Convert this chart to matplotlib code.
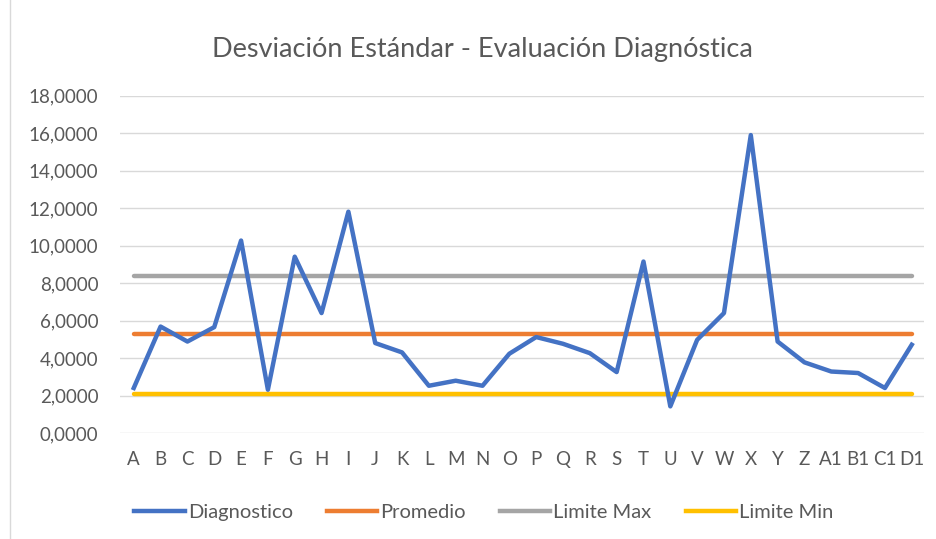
import numpy as np
import matplotlib.pyplot as plt
from matplotlib.lines import Line2D

plt.rcParams['font.family'] = ['Lato', 'DejaVu Sans']

# datos
categorias = ['A', 'B', 'C', 'D', 'E', 'F', 'G', 'H', 'I', 'J', 'K', 'L', 'M', 'N', 'O',
              'P', 'Q', 'R', 'S', 'T', 'U', 'V', 'W', 'X', 'Y', 'Z', 'A1', 'B1', 'C1', 'D1']
diagnostico = [2.40, 5.68, 4.88, 5.65, 10.27, 2.31, 9.41, 6.40, 11.81, 4.80,
               4.30, 2.52, 2.79, 2.52, 4.23, 5.12, 4.76, 4.26, 3.25, 9.15,
               1.42, 4.97, 6.40, 15.90, 4.88, 3.77, 3.28, 3.20, 2.40, 4.71]
promedio = 5.28
limite_max = 8.38
limite_min = 2.09

fig = plt.figure(figsize=(9.36, 5.39), dpi=100)
ax = fig.add_axes([0.128, 0.1967, 0.859, 0.6257])

x = np.arange(len(categorias))
gris = '#595959'
ax.plot(x, diagnostico, color='#4472C4', lw=3.2, label='Diagnostico', zorder=5, solid_joinstyle='round')
ax.plot(x, [promedio] * len(x), color='#ED7D31', lw=3.2, label='Promedio', zorder=4, solid_capstyle='round')
ax.plot(x, [limite_max] * len(x), color='#A5A5A5', lw=3.2, label='Limite Max', zorder=4, solid_capstyle='round')
ax.plot(x, [limite_min] * len(x), color='#FFC000', lw=3.2, label='Limite Min', zorder=4, solid_capstyle='round')

ax.set_xlim(-0.52, 29.45)
ax.set_ylim(0, 18)
ax.set_yticks(np.arange(0, 19, 2))
ax.set_yticklabels([f'{v:.4f}'.replace('.', ',') for v in np.arange(0, 19, 2)])
ax.set_xticks(x)
ax.set_xticklabels(categorias)
ax.tick_params(axis='both', length=0, colors=gris, labelsize=13.5)
ax.tick_params(axis='y', pad=15.5)
ax.tick_params(axis='x', pad=13)
ax.grid(axis='y', color='#D9D9D9', lw=1)
ax.set_axisbelow(True)
for s in ax.spines.values():
    s.set_visible(False)

fig.text(0.515, 0.894, 'Desviación Estándar - Evaluación Diagnóstica', ha='center', va='baseline',
         fontsize=19.5, color=gris)

handles = [Line2D([], [], color=c, lw=3.2) for c in ['#4472C4', '#ED7D31', '#A5A5A5', '#FFC000']]
fig.legend(handles, ['Diagnostico', 'Promedio', 'Limite Max', 'Limite Min'], loc='center',
           bbox_to_anchor=(0.517, 0.05), ncol=4, frameon=False, fontsize=14.5,
           labelcolor=gris, handlelength=2.5, handletextpad=0.15, columnspacing=1.7)

fig.add_artist(Line2D([0.011, 0.011], [0.0, 1.0], color='#D9D9D9', lw=1))

fig.savefig('out.png', dpi=100)
